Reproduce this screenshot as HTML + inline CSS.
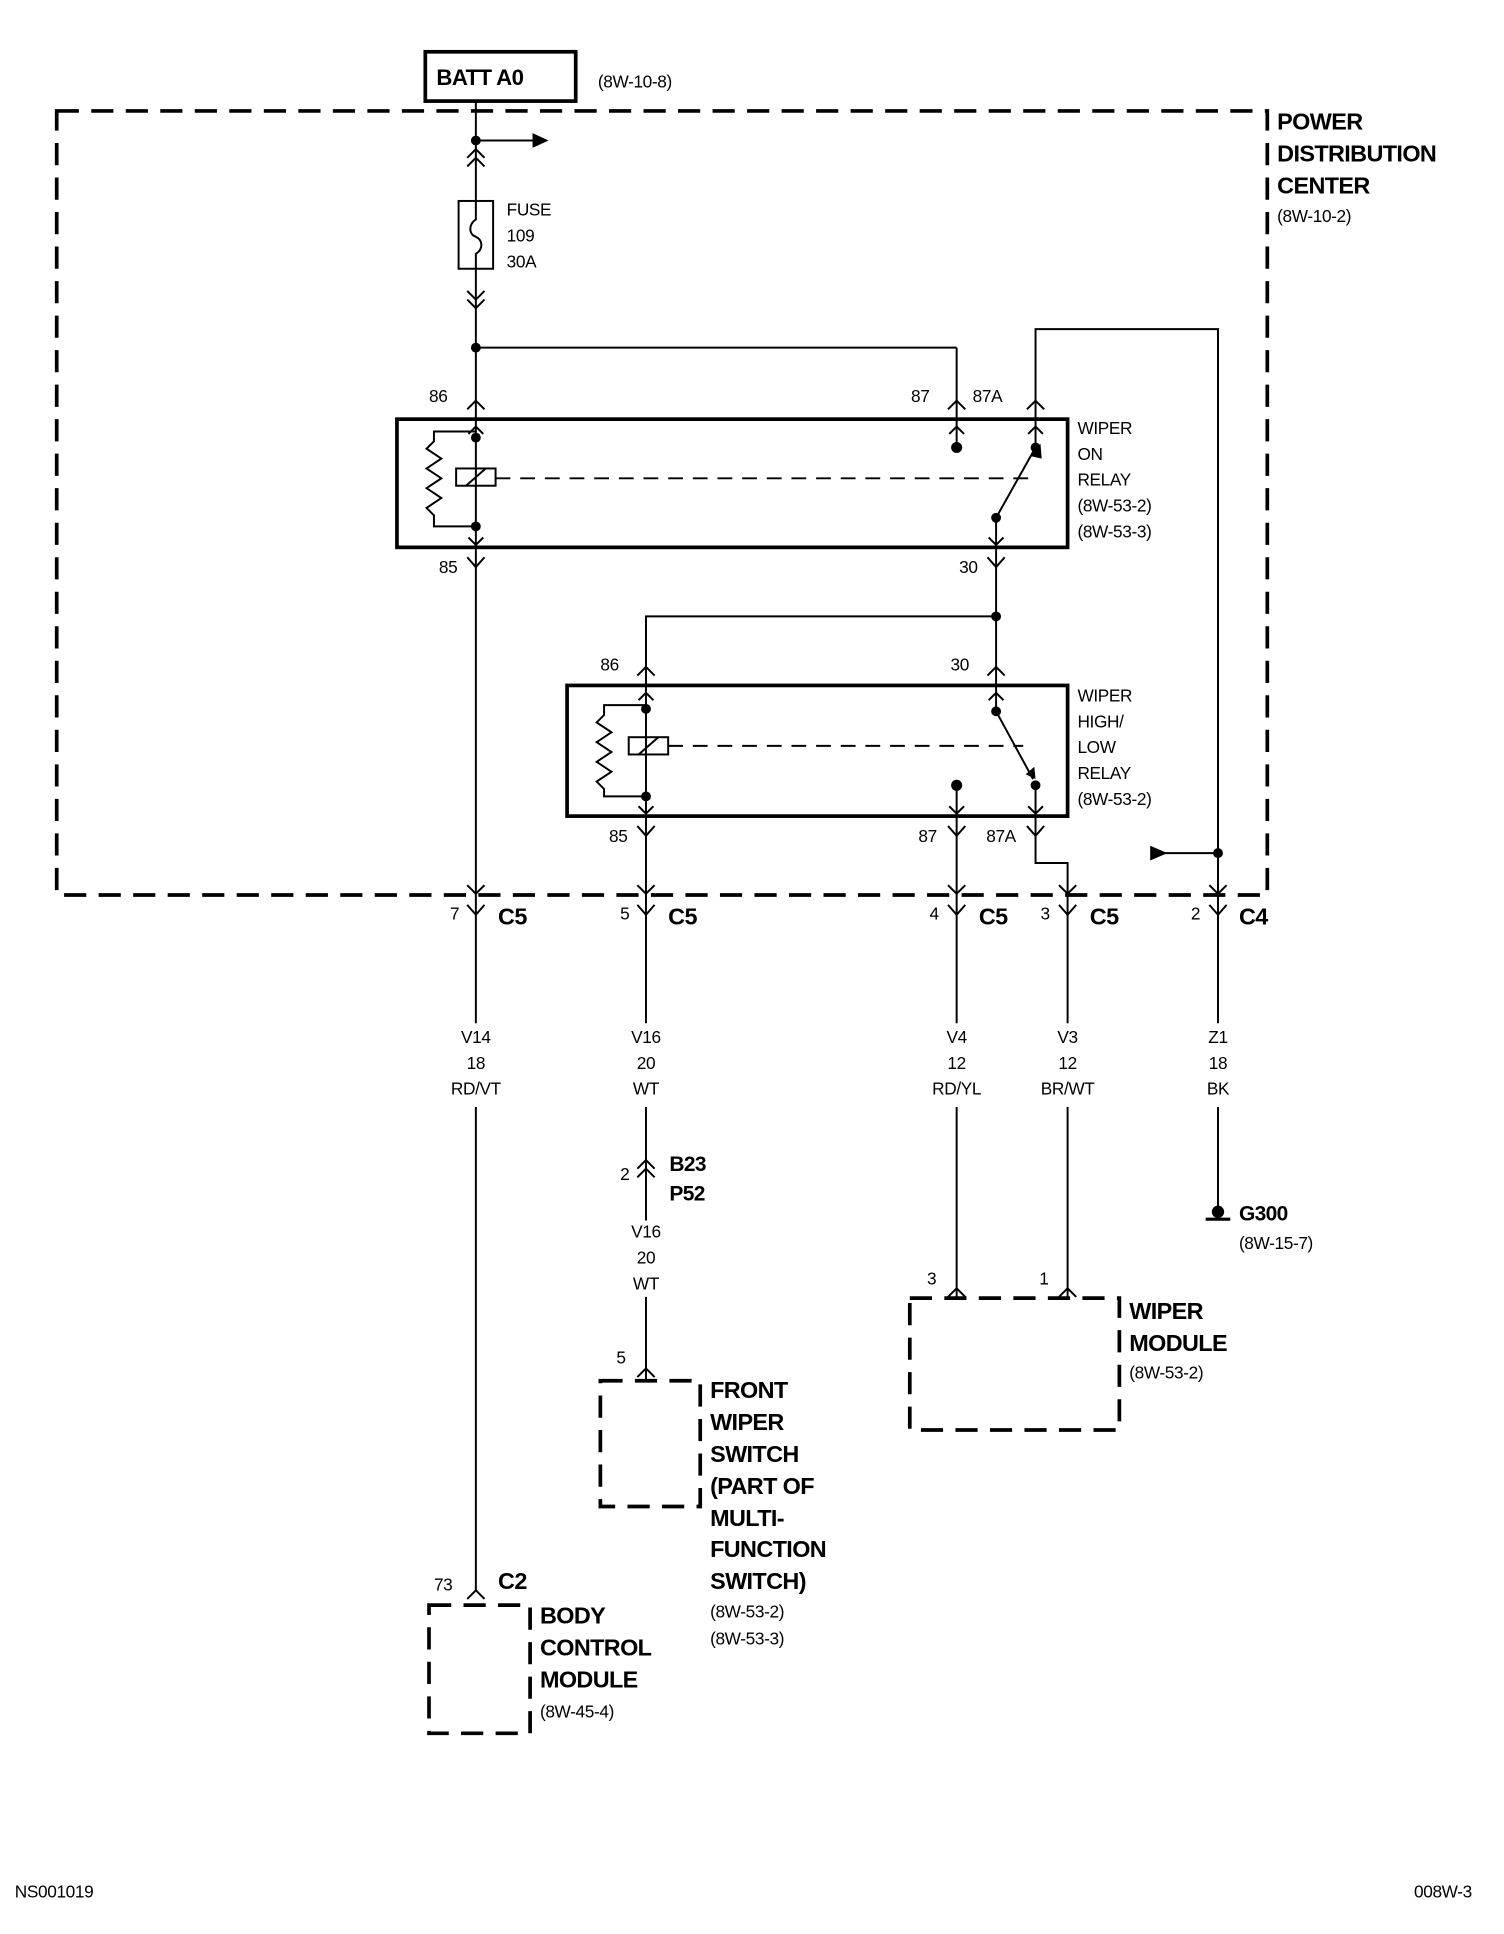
<!DOCTYPE html>
<html><head><meta charset="utf-8"><style>
html,body{margin:0;padding:0;background:#fff}
svg{display:block}
text{font-family:"Liberation Sans Narrow","Liberation Sans",sans-serif;fill:#000}
.b{font-weight:bold;font-size:19px;letter-spacing:-0.5px}
.s{font-size:14px;letter-spacing:-0.3px}
</style></head><body>
<svg width="1504" height="1934" viewBox="0 0 1220 1568.8" xmlns="http://www.w3.org/2000/svg">
<g fill="none" stroke="#000" stroke-width="1.6">
<rect x="46" y="90" width="982" height="636" stroke-width="3" stroke-dasharray="18,10"/>
<rect x="345" y="42" width="122" height="40" stroke-width="3"/>
<line x1="386" y1="82" x2="386" y2="163"/>
<line x1="386" y1="114" x2="435" y2="114"/>
<polyline points="379,128 386,121 393,128"/><polyline points="379,135 386,128 393,135"/>
<rect x="372" y="163" width="28" height="55"/>
<path d="M386,163 V178 C380,182 380,190 386,192 C392,195 392,202 386,206 V218"/>
<line x1="386" y1="218" x2="386" y2="340"/>
<polyline points="379,236 386,243 393,236"/><polyline points="379,243 386,250 393,243"/>
<line x1="386" y1="282" x2="776" y2="282"/>
<line x1="776" y1="282" x2="776" y2="340"/>
<polyline points="840,340 840,267 988,267 988,726"/>
<line x1="945" y1="692" x2="988" y2="692"/>
<polyline points="379,332 386,325 393,332"/><polyline points="769,332 776,325 783,332"/><polyline points="833,332 840,325 847,332"/>
<rect x="322" y="340" width="544" height="104" stroke-width="3"/>
<line x1="386" y1="340" x2="386" y2="444"/>
<polyline points="380,352 386,346 392,352"/><polyline points="380,436 386,442 392,436"/>
<polyline points="386,350 352,350 352,358 346,364 358,372 346,380 358,388 346,396 358,404 346,412 352,418 352,427 386,427"/>
<rect x="370" y="380" width="32" height="14"/><line x1="378" y1="394" x2="394" y2="380"/>
<line x1="402" y1="388" x2="836" y2="388" stroke-dasharray="12,8"/>
<line x1="776" y1="340" x2="776" y2="363"/><polyline points="770,352 776,346 782,352"/>
<line x1="840" y1="340" x2="840" y2="363"/><polyline points="834,352 840,346 846,352"/>
<line x1="808" y1="420" x2="840" y2="363"/>
<line x1="808" y1="420" x2="808" y2="444"/><polyline points="802,436 808,442 814,436"/>
<polyline points="379,452 386,460 393,452"/><line x1="386" y1="444" x2="386" y2="726"/>
<polyline points="801,452 808,460 815,452"/><line x1="808" y1="444" x2="808" y2="556"/>
<polyline points="808,500 524,500 524,556"/>
<polyline points="517,548 524,541 531,548"/><polyline points="801,548 808,541 815,548"/>
<rect x="460" y="556" width="406" height="106" stroke-width="3"/>
<line x1="524" y1="556" x2="524" y2="662"/>
<polyline points="518,568 524,562 530,568"/><polyline points="518,654 524,660 530,654"/>
<polyline points="524,572 490,572 490,580 484,586 496,594 484,602 496,610 484,618 496,626 484,634 490,640 490,646 524,646"/>
<rect x="510" y="598" width="32" height="14"/><line x1="518" y1="612" x2="534" y2="598"/>
<line x1="542" y1="605" x2="830" y2="605" stroke-dasharray="12,8"/>
<line x1="808" y1="556" x2="808" y2="577"/><polyline points="802,568 808,562 814,568"/>
<line x1="808" y1="577" x2="838" y2="632"/>
<line x1="776" y1="637" x2="776" y2="662"/><polyline points="770,654 776,660 782,654"/>
<line x1="840" y1="637" x2="840" y2="662"/><polyline points="834,654 840,660 846,654"/>
<polyline points="517,670 524,678 531,670"/><line x1="524" y1="662" x2="524" y2="726"/>
<polyline points="769,670 776,678 783,670"/><line x1="776" y1="662" x2="776" y2="726"/>
<polyline points="833,670 840,678 847,670"/><polyline points="840,662 840,700 866,700 866,726"/>
<g>
<polyline points="379,718 386,725 393,718"/><polyline points="379,734 386,742 393,734"/>
<polyline points="517,718 524,725 531,718"/><polyline points="517,734 524,742 531,734"/>
<polyline points="769,718 776,725 783,718"/><polyline points="769,734 776,742 783,734"/>
<polyline points="859,718 866,725 873,718"/><polyline points="859,734 866,742 873,734"/>
<polyline points="981,718 988,725 995,718"/><polyline points="981,734 988,742 995,734"/>
</g>
<line x1="386" y1="726" x2="386" y2="830"/><line x1="386" y1="898" x2="386" y2="1290"/>
<line x1="524" y1="726" x2="524" y2="830"/><line x1="524" y1="898" x2="524" y2="990"/>
<polyline points="517,948 524,941 531,948"/><polyline points="517,955 524,948 531,955"/>
<line x1="524" y1="1052" x2="524" y2="1120"/><polyline points="517,1117 524,1110 531,1117"/>
<line x1="776" y1="726" x2="776" y2="830"/><line x1="776" y1="898" x2="776" y2="1053"/>
<line x1="866" y1="726" x2="866" y2="830"/><line x1="866" y1="898" x2="866" y2="1053"/>
<polyline points="769,1052 776,1045 783,1052"/><polyline points="859,1052 866,1045 873,1052"/>
<line x1="988" y1="726" x2="988" y2="830"/><line x1="988" y1="898" x2="988" y2="980"/>
<line x1="978" y1="989" x2="998" y2="989" stroke-width="2.5"/>
<polyline points="379,1297 386,1290 393,1297"/>
<rect x="487" y="1120" width="81" height="102" stroke-width="3" stroke-dasharray="18,10"/>
<rect x="348" y="1302" width="82" height="104" stroke-width="3" stroke-dasharray="18,10"/>
<rect x="738" y="1053" width="170" height="107" stroke-width="3" stroke-dasharray="18,10"/>
</g>
<g fill="#000">
<circle cx="386" cy="114" r="4"/><circle cx="386" cy="282" r="4"/>
<polygon points="432,108 445,114 432,120"/>
<circle cx="386" cy="355" r="4"/><circle cx="386" cy="427" r="4"/>
<circle cx="776" cy="363" r="4.5"/><circle cx="840" cy="363" r="4"/><circle cx="808" cy="420" r="4"/>
<polygon points="836,370 844,360 845,372"/>
<circle cx="808" cy="500" r="4"/>
<circle cx="524" cy="575" r="4"/><circle cx="524" cy="646" r="4"/>
<circle cx="808" cy="577" r="4"/><circle cx="776" cy="637" r="4.5"/><circle cx="840" cy="637" r="4"/>
<polygon points="832,628 840,632 839,622"/>
<circle cx="988" cy="692" r="4"/><polygon points="933,686 947,692 933,698"/>
<circle cx="988" cy="983" r="5"/>
</g>
<text x="354" y="69" class="b" style="font-size:18px">BATT A0</text>
<text x="485" y="71" class="s">(8W-10-8)</text>
<text x="1036" y="105" class="b">POWER</text>
<text x="1036" y="131" class="b">DISTRIBUTION</text>
<text x="1036" y="157" class="b">CENTER</text>
<text x="1036" y="180" class="s">(8W-10-2)</text>
<text x="411" y="175" class="s">FUSE</text><text x="411" y="196" class="s">109</text><text x="411" y="217" class="s">30A</text>
<text x="348" y="326" class="s">86</text><text x="739" y="326" class="s">87</text><text x="789" y="326" class="s">87A</text>
<text x="874" y="352" class="s">WIPER</text><text x="874" y="373" class="s">ON</text><text x="874" y="394" class="s">RELAY</text><text x="874" y="415" class="s">(8W-53-2)</text><text x="874" y="436" class="s">(8W-53-3)</text>
<text x="356" y="465" class="s">85</text><text x="778" y="465" class="s">30</text>
<text x="487" y="544" class="s">86</text><text x="771" y="544" class="s">30</text>
<text x="874" y="569" class="s">WIPER</text><text x="874" y="590" class="s">HIGH/</text><text x="874" y="611" class="s">LOW</text><text x="874" y="632" class="s">RELAY</text><text x="874" y="653" class="s">(8W-53-2)</text>
<text x="494" y="683" class="s">85</text><text x="745" y="683" class="s">87</text><text x="800" y="683" class="s">87A</text>
<text x="365" y="746" class="s">7</text><text x="404" y="750" class="b">C5</text>
<text x="503" y="746" class="s">5</text><text x="542" y="750" class="b">C5</text>
<text x="754" y="746" class="s">4</text><text x="794" y="750" class="b">C5</text>
<text x="844" y="746" class="s">3</text><text x="884" y="750" class="b">C5</text>
<text x="966" y="746" class="s">2</text><text x="1005" y="750" class="b">C4</text>
<g class="s" text-anchor="middle" style="font-size:14px">
<text x="386" y="846">V14</text><text x="386" y="867">18</text><text x="386" y="888">RD/VT</text>
<text x="524" y="846">V16</text><text x="524" y="867">20</text><text x="524" y="888">WT</text>
<text x="776" y="846">V4</text><text x="776" y="867">12</text><text x="776" y="888">RD/YL</text>
<text x="866" y="846">V3</text><text x="866" y="867">12</text><text x="866" y="888">BR/WT</text>
<text x="988" y="846">Z1</text><text x="988" y="867">18</text><text x="988" y="888">BK</text>
<text x="524" y="1004">V16</text><text x="524" y="1025">20</text><text x="524" y="1046">WT</text>
</g>
<text x="503" y="957" class="s">2</text><text x="543" y="950" class="b" style="font-size:17px">B23</text><text x="543" y="974" class="b" style="font-size:17px">P52</text>
<text x="1005" y="990" class="b" style="font-size:17px">G300</text><text x="1005" y="1013" class="s">(8W-15-7)</text>
<text x="752" y="1042" class="s">3</text><text x="843" y="1042" class="s">1</text>
<text x="916" y="1070" class="b">WIPER</text><text x="916" y="1096" class="b">MODULE</text><text x="916" y="1118" class="s">(8W-53-2)</text>
<text x="500" y="1106" class="s">5</text>
<text x="576" y="1134" class="b">FRONT</text><text x="576" y="1160" class="b">WIPER</text><text x="576" y="1186" class="b">SWITCH</text><text x="576" y="1212" class="b">(PART OF</text><text x="576" y="1238" class="b">MULTI-</text><text x="576" y="1263" class="b">FUNCTION</text><text x="576" y="1289" class="b">SWITCH)</text>
<text x="576" y="1312" class="s">(8W-53-2)</text><text x="576" y="1334" class="s">(8W-53-3)</text>
<text x="352" y="1290" class="s">73</text><text x="404" y="1289" class="b">C2</text>
<text x="438" y="1317" class="b">BODY</text><text x="438" y="1343" class="b">CONTROL</text><text x="438" y="1369" class="b">MODULE</text><text x="438" y="1393" class="s">(8W-45-4)</text>
<text x="12" y="1539" class="s">NS001019</text><text x="1147" y="1539" class="s">008W-3</text>
</svg>
</body></html>
